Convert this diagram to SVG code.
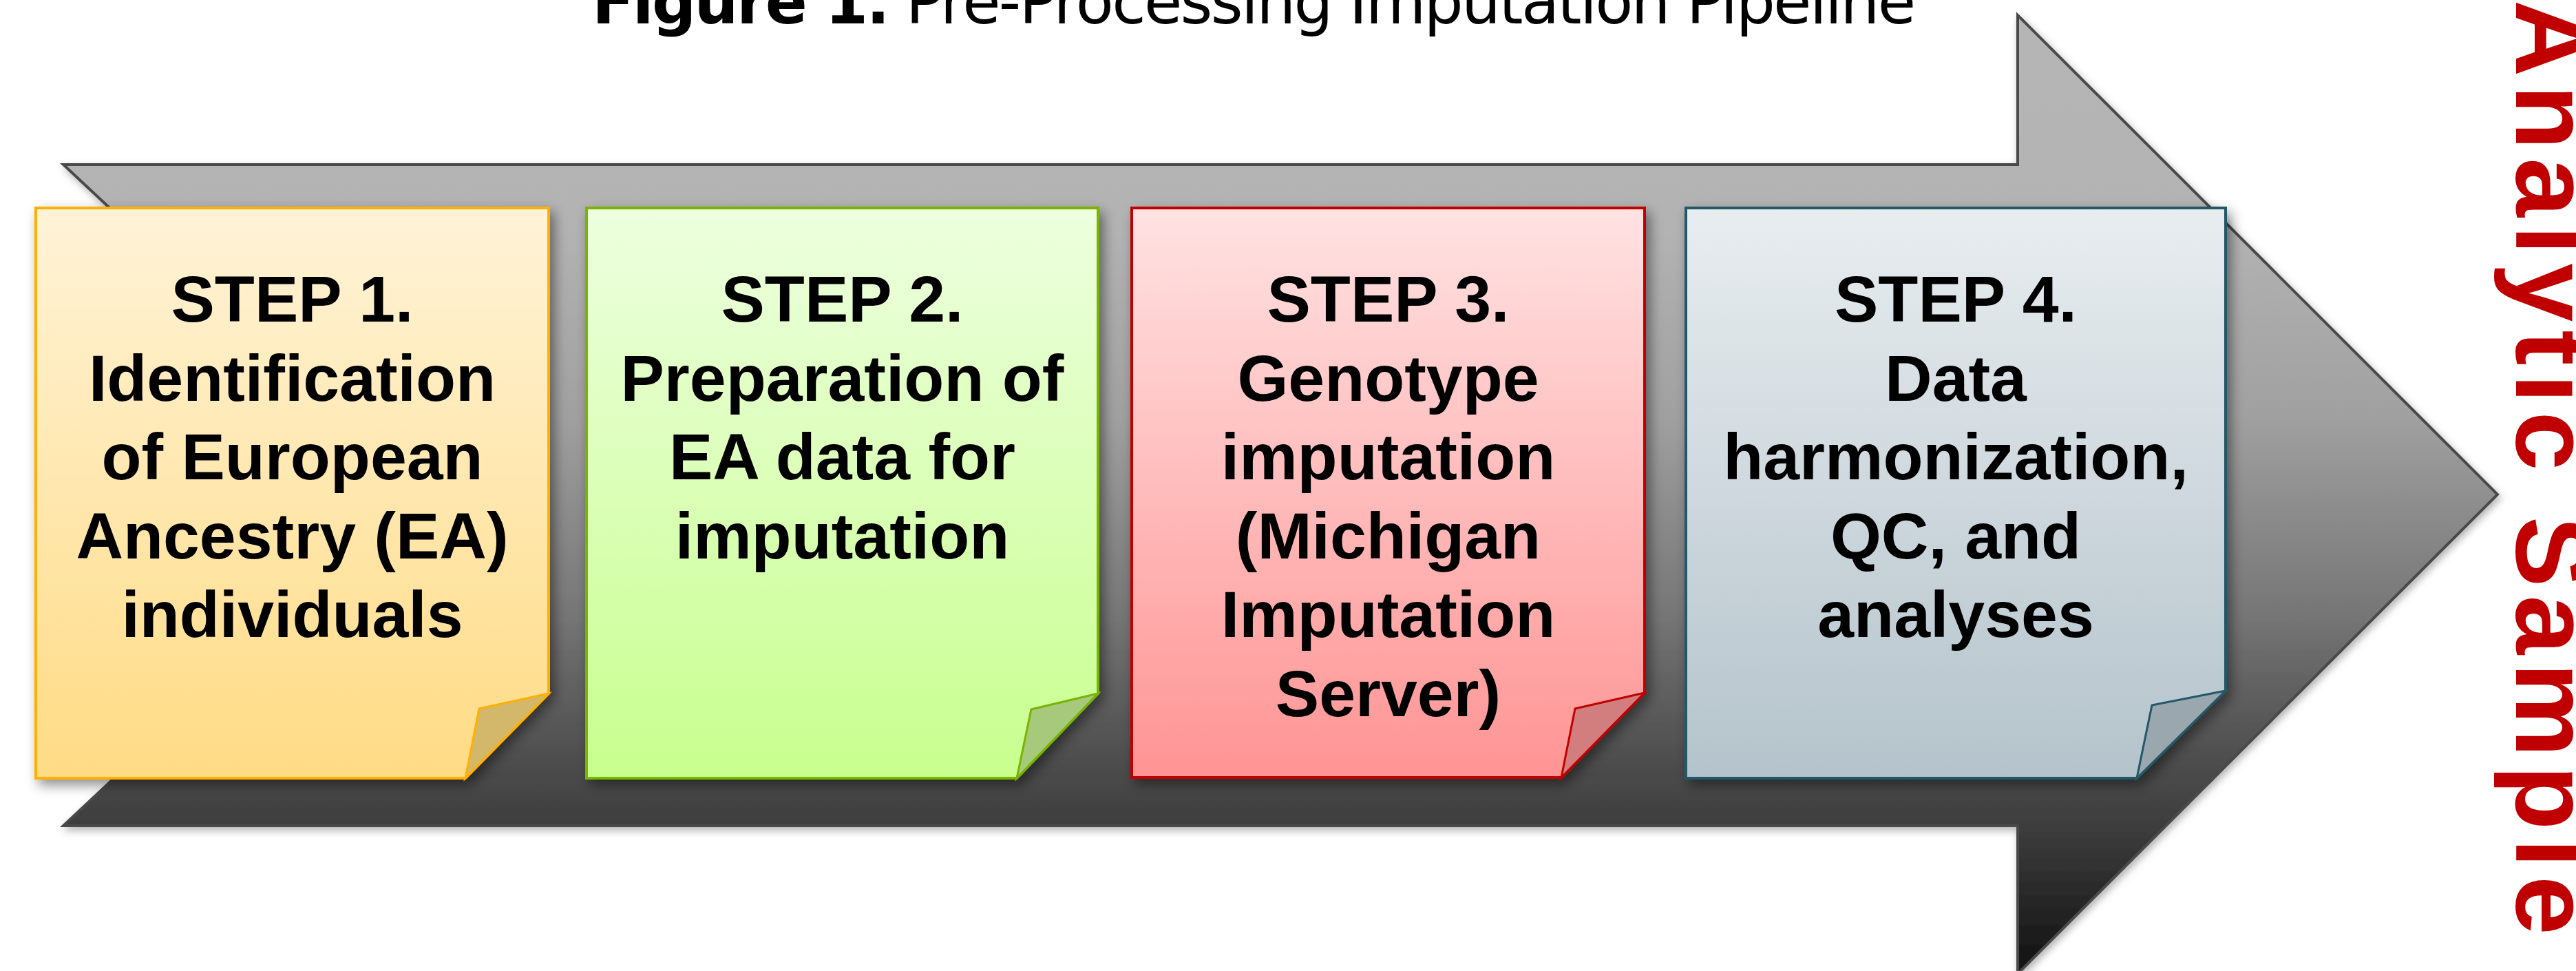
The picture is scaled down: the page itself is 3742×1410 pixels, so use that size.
<svg xmlns="http://www.w3.org/2000/svg" width="3742" height="1410" viewBox="0 0 3742 1410">
<style>
.step{font-family:"Liberation Sans",Arial,sans-serif;font-weight:bold;font-size:95px;fill:#000;text-anchor:middle}
.title{font-family:"DejaVu Sans",Tahoma,sans-serif;font-size:90px;fill:#000}
.side{font-family:"Liberation Sans",Arial,sans-serif;font-weight:bold;font-size:154px;fill:#c00000;letter-spacing:12px}
.note{stroke-width:4;stroke-linejoin:miter}
</style>
<defs>
<linearGradient id="arrowGrad" x1="0" y1="0" x2="0" y2="1">
<stop offset="0" stop-color="#b5b5b5"/>
<stop offset="0.22" stop-color="#b3b3b3"/>
<stop offset="0.42" stop-color="#a0a0a0"/>
<stop offset="0.62" stop-color="#777777"/>
<stop offset="0.72" stop-color="#5c5c5c"/>
<stop offset="0.8" stop-color="#484848"/>
<stop offset="0.85" stop-color="#3c3c3c"/>
<stop offset="1" stop-color="#111111"/>
</linearGradient>
<linearGradient id="g1" x1="0" y1="0" x2="0" y2="1"><stop offset="0" stop-color="#fff3d8"/><stop offset="1" stop-color="#ffdb84"/></linearGradient>
<linearGradient id="g2" x1="0" y1="0" x2="0" y2="1"><stop offset="0" stop-color="#edffdf"/><stop offset="1" stop-color="#c8ff8e"/></linearGradient>
<linearGradient id="g3" x1="0" y1="0" x2="0" y2="1"><stop offset="0" stop-color="#ffe2e2"/><stop offset="1" stop-color="#ff9494"/></linearGradient>
<linearGradient id="g4" x1="0" y1="0" x2="0" y2="1"><stop offset="0" stop-color="#e8edf0"/><stop offset="1" stop-color="#b4c3cb"/></linearGradient>
<filter id="shadow" x="-10%" y="-10%" width="125%" height="125%">
<feDropShadow dx="6" dy="8" stdDeviation="9" flood-color="#000" flood-opacity="0.45"/>
</filter>
<filter id="ashadow" x="-5%" y="-5%" width="110%" height="110%">
<feDropShadow dx="3" dy="5" stdDeviation="6" flood-color="#000" flood-opacity="0.3"/>
</filter>
</defs>

<g id="title">
<text class="title" x="860" y="34" textLength="1923" lengthAdjust="spacing"><tspan font-weight="bold">Figure 1.</tspan> Pre-Processing Imputation Pipeline</text>
</g>

<g id="connectors">
<path id="big-arrow" d="M92,239 L2931,239 L2931,22 L3628,718 L2931,1414 L2931,1199 L92,1199 L605,719 Z" fill="url(#arrowGrad)" stroke="#4a4a4a" stroke-width="4" stroke-linejoin="miter" filter="url(#ashadow)"/>
</g>

<g id="step1" filter="url(#shadow)">
<path class="note" d="M52,302 L797,302 L797,1007 L676,1130 L52,1130 Z" fill="url(#g1)" stroke="#ffb000"/>
<path d="M797,1007 L696,1029 L676,1130 Z" fill="#d3b86c" stroke="#ffb000" stroke-width="3"/>
<text class="step" x="424.5" y="467">STEP 1.<tspan x="424.5" dy="114.5">Identification</tspan><tspan x="424.5" dy="114.5">of European</tspan><tspan x="424.5" dy="114.5">Ancestry (EA)</tspan><tspan x="424.5" dy="114.5">individuals</tspan></text>
</g>

<g id="step2" filter="url(#shadow)">
<path class="note" d="M852,302 L1595,302 L1595,1007 L1477,1130 L852,1130 Z" fill="url(#g2)" stroke="#78b400"/>
<path d="M1595,1007 L1498,1030 L1477,1130 Z" fill="#a6c97c" stroke="#78b400" stroke-width="3"/>
<text class="step" x="1223.5" y="467">STEP 2.<tspan x="1223.5" dy="114.5">Preparation of</tspan><tspan x="1223.5" dy="114.5">EA data for</tspan><tspan x="1223.5" dy="114.5">imputation</tspan></text>
</g>

<g id="step3" filter="url(#shadow)">
<path class="note" d="M1644,302 L2389,302 L2389,1006 L2268,1129 L1644,1129 Z" fill="url(#g3)" stroke="#c00000" stroke-width="3.5"/>
<path d="M2389,1006 L2288,1029 L2268,1129 Z" fill="#d27e7e" stroke="#c00000" stroke-width="3"/>
<text class="step" x="2016.5" y="467">STEP 3.<tspan x="2016.5" dy="114.5">Genotype</tspan><tspan x="2016.5" dy="114.5">imputation</tspan><tspan x="2016.5" dy="114.5">(Michigan</tspan><tspan x="2016.5" dy="114.5">Imputation</tspan><tspan x="2016.5" dy="114.5">Server)</tspan></text>
</g>

<g id="step4" filter="url(#shadow)">
<path class="note" d="M2449,302 L3233,302 L3233,1003 L3104,1130 L2449,1130 Z" fill="url(#g4)" stroke="#215868" stroke-width="3.5"/>
<path d="M3233,1003 L3126,1024 L3104,1130 Z" fill="#9ba7ae" stroke="#215868" stroke-width="3"/>
<text class="step" x="2841" y="467">STEP 4.<tspan x="2841" dy="114.5">Data</tspan><tspan x="2841" dy="114.5">harmonization,</tspan><tspan x="2841" dy="114.5">QC, and</tspan><tspan x="2841" dy="114.5">analyses</tspan></text>
</g>

<g id="analytic-sample">
<text class="side" transform="translate(3655,0) rotate(90)" x="0" y="0">Analytic Sample</text>
</g>
</svg>
